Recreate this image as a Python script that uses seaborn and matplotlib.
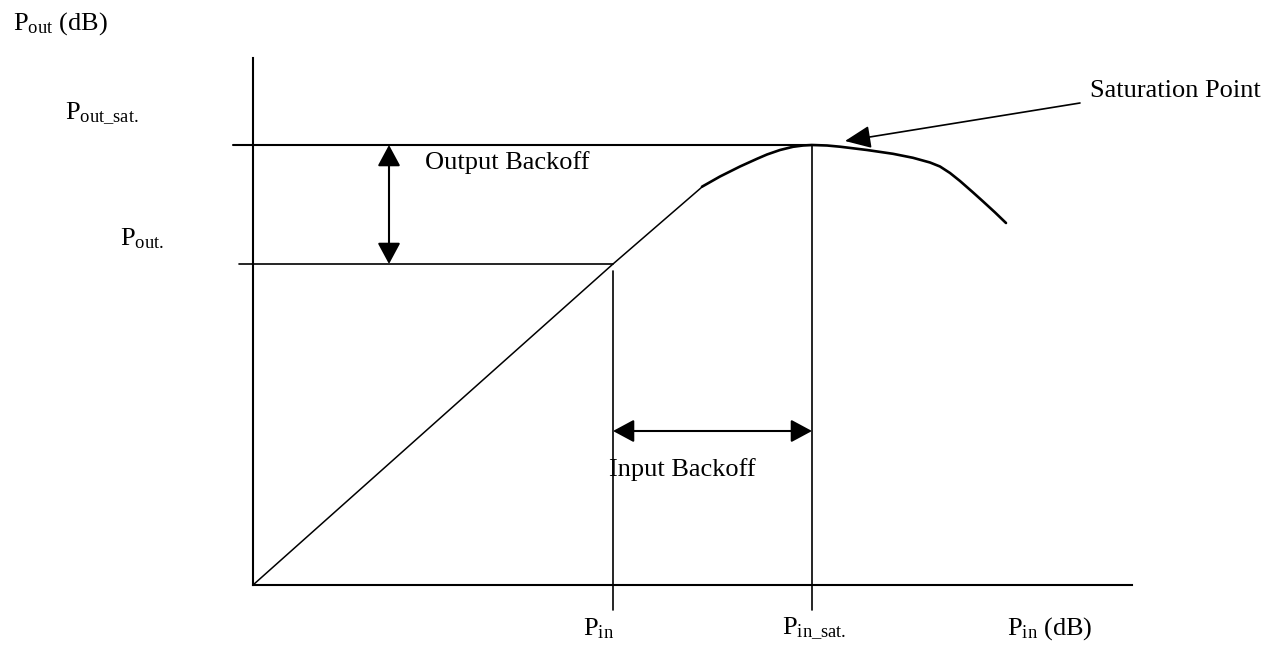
import numpy as np
import pandas as pd
import matplotlib
matplotlib.use("Agg")
import matplotlib.pyplot as plt
import seaborn as sns

# amplifier transfer curve (arbitrary dB units)
pin_linear = [0.0, 36.0, 44.9]
pout_linear = [0.0, 32.1, 39.8]
pin_comp = [44.9, 46.7, 48.7, 50.4, 51.4, 52.7, 54.0, 55.0, 55.9, 57.4, 58.7,
            61.4, 64.0, 66.0, 67.7, 68.7, 69.7, 70.7, 72.0, 73.0, 74.2, 75.3]
pout_comp = [39.83, 40.85, 41.85, 42.62, 43.05, 43.5, 43.82, 43.95, 44.0, 43.95, 43.83,
             43.5, 43.12, 42.72, 42.25, 41.85, 41.2, 40.4, 39.26, 38.36, 37.26, 36.2]

p_in = 36.0
p_in_sat = 55.9
p_out = 32.1
p_out_sat = 44.0

sns.set_theme(style="white")
plt.rcParams["font.family"] = ["Liberation Serif", "DejaVu Serif"]
plt.rcParams["mathtext.fontset"] = "custom"
plt.rcParams["mathtext.rm"] = "Liberation Serif"
plt.rcParams["mathtext.it"] = "Liberation Serif:italic"

fig = plt.figure(figsize=(12.68, 6.49), dpi=100)
ax = fig.add_axes([253 / 1268, 64 / 649, 879 / 1268, 527 / 649])
ax.set_xlim(0, 87.9)
ax.set_ylim(0, 52.7)

lin_df = pd.DataFrame({"Pin": pin_linear, "Pout": pout_linear})
comp_df = pd.DataFrame({"Pin": pin_comp, "Pout": pout_comp})
sns.lineplot(data=lin_df, x="Pin", y="Pout", sort=False, estimator=None,
             color="black", linewidth=1.1, ax=ax)
sns.lineplot(data=comp_df, x="Pin", y="Pout", sort=False, estimator=None,
             color="black", linewidth=1.9, ax=ax, solid_joinstyle="round")

# reference lines
ax.plot([-2.0, p_in_sat], [p_out_sat, p_out_sat], color="black", lw=1.5, clip_on=False)
ax.plot([-1.4, p_in], [p_out, p_out], color="black", lw=1.2, clip_on=False)
ax.plot([p_in, p_in], [-2.5, p_out - 0.7], color="black", lw=1.2, clip_on=False)
ax.plot([p_in_sat, p_in_sat], [-2.5, p_out_sat], color="black", lw=1.2, clip_on=False)

arrow2 = dict(arrowstyle="<|-|>,head_length=0.65,head_width=0.35", mutation_scale=20,
              color="black", lw=1.5, shrinkA=0, shrinkB=0)
ax.annotate("", xy=(13.6, p_out_sat), xytext=(13.6, p_out), arrowprops=arrow2)
ax.annotate("", xy=(p_in_sat, 15.4), xytext=(p_in, 15.4), arrowprops=arrow2)
ax.annotate("", xy=(59.2, 44.4), xytext=(82.7, 48.2),
            arrowprops=dict(arrowstyle="-|>,head_length=0.8,head_width=0.35", mutation_scale=20,
                            color="black", lw=1.2, shrinkA=0, shrinkB=0),
            annotation_clip=False)

fs = 19
txt = dict(fontsize=fs, color="black", ha="left", va="baseline")
ax.text(17.2, 41.6, "Output Backoff", **txt)
ax.text(35.6, 10.9, "Input Backoff", **txt)
ax.text(83.7, 48.8, "Saturation Point", clip_on=False, **txt)
ax.text(-24.0, 55.5, r"P$_{\mathrm{out}}$ (dB)", **txt)
ax.text(-18.8, 46.5, r"P$_{\mathrm{out\_sat.}}$", **txt)
ax.text(-13.3, 34.0, r"P$_{\mathrm{out.}}$", **txt)
ax.text(33.0, -5.0, r"P$_{\mathrm{in}}$", **txt)
ax.text(52.9, -5.0, r"P$_{\mathrm{in\_sat.}}$", **txt)
ax.text(75.4, -5.0, r"P$_{\mathrm{in}}$ (dB)", **txt)

ax.set_xlabel("")
ax.set_ylabel("")
ax.set_xticks([])
ax.set_yticks([])
for side in ["top", "right"]:
    ax.spines[side].set_visible(False)
for side in ["left", "bottom"]:
    ax.spines[side].set_color("black")
    ax.spines[side].set_linewidth(1.5)

fig.savefig("out.png", dpi=100)
